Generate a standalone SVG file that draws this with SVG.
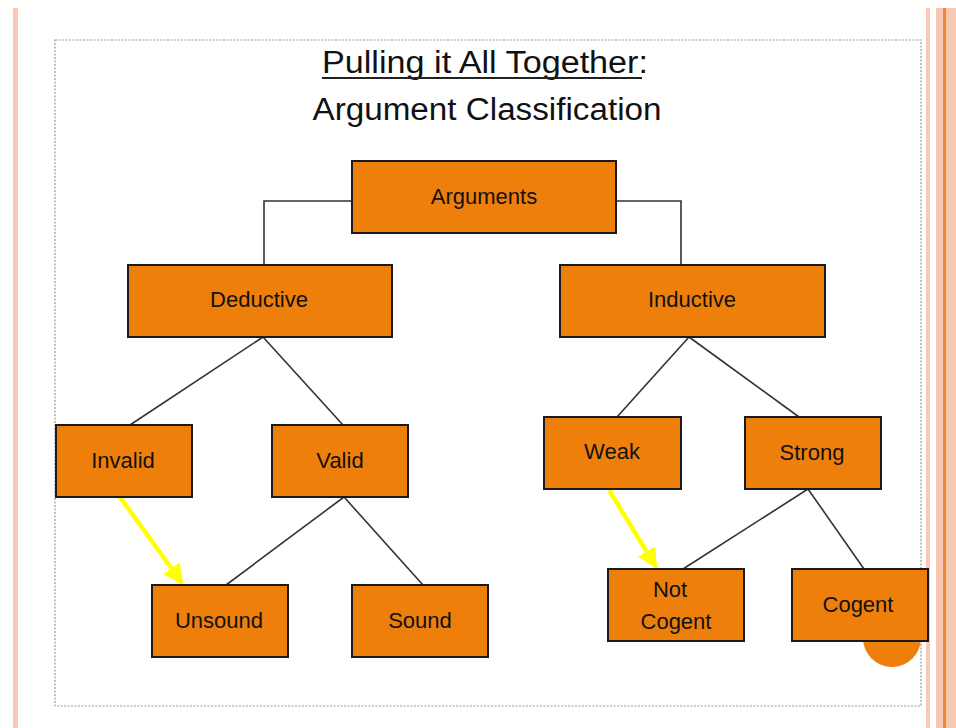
<svg xmlns="http://www.w3.org/2000/svg" width="956" height="728" viewBox="0 0 956 728">
<defs>
<style>
.node rect{fill:#EE7F0A;stroke:#1a1a1a;stroke-width:2}
.node text{font-family:"Liberation Sans","DejaVu Sans",sans-serif;font-size:22px;fill:#111;text-anchor:middle}
.edge{stroke:#333;stroke-width:1.6;fill:none}
.hl{stroke:#FFFF00;stroke-width:4.5;fill:none}
.title{font-family:"Liberation Sans","DejaVu Sans",sans-serif;font-size:31px;fill:#111;text-anchor:middle}
</style>
<marker id="yarrow" viewBox="0 0 10 10" refX="9" refY="5" markerWidth="4.5" markerHeight="4.5" markerUnits="strokeWidth" orient="auto">
<path d="M0,0 L10,5 L0,10 z" fill="#FFFF00"/>
</marker>
<clipPath id="boxclip"><rect x="55" y="40" width="866" height="666"/></clipPath>
</defs>
<rect width="956" height="728" fill="#ffffff"/>
<!-- page border decorations -->
<rect x="13" y="8" width="5" height="720" fill="#F8C8B2"/>
<rect x="926" y="8" width="4" height="720" fill="#F8C8B2"/>
<rect x="936" y="8" width="20" height="720" fill="#F8C8B2"/>
<rect x="943" y="8" width="3" height="720" fill="#F0883A"/>
<rect x="55" y="40" width="866" height="666" fill="none" stroke="#999" stroke-width="1.2" stroke-dasharray="2,1.5"/>
<circle cx="892" cy="638" r="29" fill="#EE7F0A" clip-path="url(#boxclip)"/>
<!-- title -->
<g id="title">
<text class="title" x="485" y="73" textLength="326" lengthAdjust="spacingAndGlyphs">Pulling it All Together:</text>
<line x1="322" y1="78" x2="642" y2="78" stroke="#222" stroke-width="2"/>
<text class="title" x="487" y="120" textLength="349" lengthAdjust="spacingAndGlyphs">Argument Classification</text>
</g>
<!-- connectors -->
<g id="connectors">
<polyline class="edge" points="352,201 264,201 264,265"/>
<polyline class="edge" points="616,201 681,201 681,265"/>
<line class="edge" x1="263" y1="337" x2="130" y2="425"/>
<line class="edge" x1="263" y1="337" x2="343" y2="425"/>
<line class="edge" x1="689" y1="337" x2="617" y2="417"/>
<line class="edge" x1="689" y1="337" x2="799" y2="417"/>
<line class="edge" x1="344" y1="497" x2="226" y2="585"/>
<line class="edge" x1="344" y1="497" x2="423" y2="585"/>
<line class="edge" x1="808" y1="489" x2="683" y2="569"/>
<line class="edge" x1="808" y1="489" x2="864" y2="569"/>
<line class="hl" x1="120" y1="497" x2="182" y2="583" marker-end="url(#yarrow)"/>
<line class="hl" x1="609" y1="490" x2="656" y2="567" marker-end="url(#yarrow)"/>
</g>
<!-- nodes -->
<g id="arguments" class="node"><rect x="352" y="161" width="264" height="72"/><text x="484" y="204">Arguments</text></g>
<g id="deductive" class="node"><rect x="128" y="265" width="264" height="72"/><text x="259" y="307">Deductive</text></g>
<g id="inductive" class="node"><rect x="560" y="265" width="265" height="72"/><text x="692" y="307">Inductive</text></g>
<g id="invalid" class="node"><rect x="56" y="425" width="136" height="72"/><text x="123" y="468">Invalid</text></g>
<g id="valid" class="node"><rect x="272" y="425" width="136" height="72"/><text x="340" y="468">Valid</text></g>
<g id="unsound" class="node"><rect x="152" y="585" width="136" height="72"/><text x="219" y="628">Unsound</text></g>
<g id="sound" class="node"><rect x="352" y="585" width="136" height="72"/><text x="420" y="628">Sound</text></g>
<g id="weak" class="node"><rect x="544" y="417" width="137" height="72"/><text x="612" y="459">Weak</text></g>
<g id="strong" class="node"><rect x="745" y="417" width="136" height="72"/><text x="812" y="460">Strong</text></g>
<g id="notcogent" class="node"><rect x="608" y="569" width="136" height="72"/><text x="670" y="597">Not</text><text x="676" y="629">Cogent</text></g>
<g id="cogent" class="node"><rect x="792" y="569" width="136" height="72"/><text x="858" y="612">Cogent</text></g>
</svg>
